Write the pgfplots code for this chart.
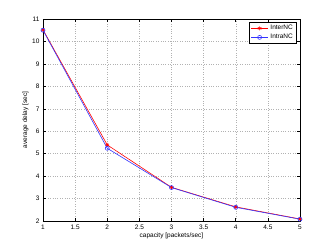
\documentclass[border=0pt]{standalone}
\usepackage{pgfplots}
\pgfplotsset{compat=1.18}
\usepackage{fontspec}
\setmainfont{Liberation Sans}
\begin{document}
\begin{tikzpicture}
\begin{axis}[
  at={(0pt,0pt)}, anchor=south west,
  scale only axis, width=257pt, height=202pt,
  xmin=1, xmax=5, ymin=2, ymax=11,
  xtick={1,1.5,2,2.5,3,3.5,4,4.5,5},
  ytick={2,3,...,11},
  xticklabels={1,1.5,2,2.5,3,3.5,4,4.5,5},
  tick align=inside, major tick length=3pt,
  xtick pos=both, ytick pos=both,
  grid=major,
  major grid style={gray!60, dotted, line width=0.4pt},
  axis line style={black, line width=0.6pt},
  tick style={black, line width=0.5pt},
  font=\fontsize{6.5}{8}\selectfont,
  /pgf/number format/assume math mode=true,
  xlabel={capacity [packets/sec]},
  ylabel={average delay [sec]},
  xlabel style={yshift=3pt},
  ylabel style={yshift=-3pt},
  legend style={at={(0.985,0.985)}, anchor=north east, draw=black, line width=0.6pt,
    font=\fontsize{6.5}{8}\selectfont, inner sep=1pt, row sep=-1pt, cells={anchor=west}},
  legend cell align=left,
]
\addplot[red, line width=0.6pt, mark=asterisk, mark size=2pt, mark options={solid}]
  coordinates {(1,10.52) (2,5.39) (3,3.50) (4,2.63) (5,2.09)};
\addlegendentry{InterNC}
\addplot[blue!80, line width=0.6pt, mark=o, mark size=2pt]
  coordinates {(1,10.50) (2,5.24) (3,3.49) (4,2.61) (5,2.08)};
\addlegendentry{IntraNC}
\end{axis}
\pgfresetboundingbox
\path[use as bounding box] (-43pt,-29pt) rectangle (289pt,221pt);
\end{tikzpicture}
\end{document}
